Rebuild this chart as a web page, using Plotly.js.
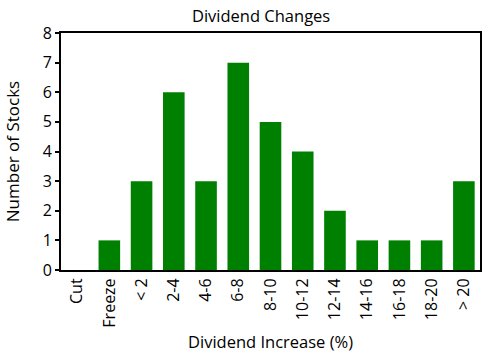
<!DOCTYPE html>
<html><head><meta charset="utf-8">
<script src="https://cdn.plot.ly/plotly-3.0.1.min.js"></script>
<style>body{margin:0;padding:0;background:#fff}#chart{width:488px;height:363px}</style>
</head><body><div id="chart"></div>
<script>
const categories = ["Cut","Freeze","< 2","2-4","4-6","6-8","8-10","10-12","12-14","14-16","16-18","18-20","> 20"];
const counts = [0,1,3,6,3,7,5,4,2,1,1,1,3];
const yTicks = [0,1,2,3,4,5,6,7,8];

const font = {family: "'Open Sans', Lato, sans-serif", size: 14, color: "#000"};
Plotly.newPlot("chart", [{
  type: "bar", x: categories, y: counts,
  marker: {color: "#008000", line: {width: 0}},
  hoverinfo: "x+y"
}], {
  width: 488, height: 363,
  margin: {l: 61, r: 8, t: 33, b: 93},
  paper_bgcolor: "#fff", plot_bgcolor: "#fff",
  bargap: 0.33,
  font: font,
  title: {text: "Dividend Changes", font: {family: font.family, size: 16.5, color: "#000"}, x: 0.535, xanchor: "center", y: 0.955, yanchor: "middle"},
  xaxis: {
    type: "category", tickangle: -90, showgrid: false, zeroline: false,
    showline: true, linecolor: "#000", linewidth: 2, mirror: true,
    ticks: "", ticklen: 0, tickfont: {size: 16},
    title: {text: "Dividend Increase (%)", font: {size: 16.5}, standoff: 10}
  },
  yaxis: {
    range: [0, 8], tickvals: yTicks, showgrid: false, zeroline: false,
    showline: true, linecolor: "#000", linewidth: 2, mirror: true,
    ticks: "outside", ticklen: 4, tickwidth: 2, tickcolor: "#000", tickfont: {size: 16},
    title: {text: "Number of Stocks", font: {size: 17}, standoff: 19}
  },
  showlegend: false
}, {displayModeBar: false, staticPlot: true});
</script></body></html>
